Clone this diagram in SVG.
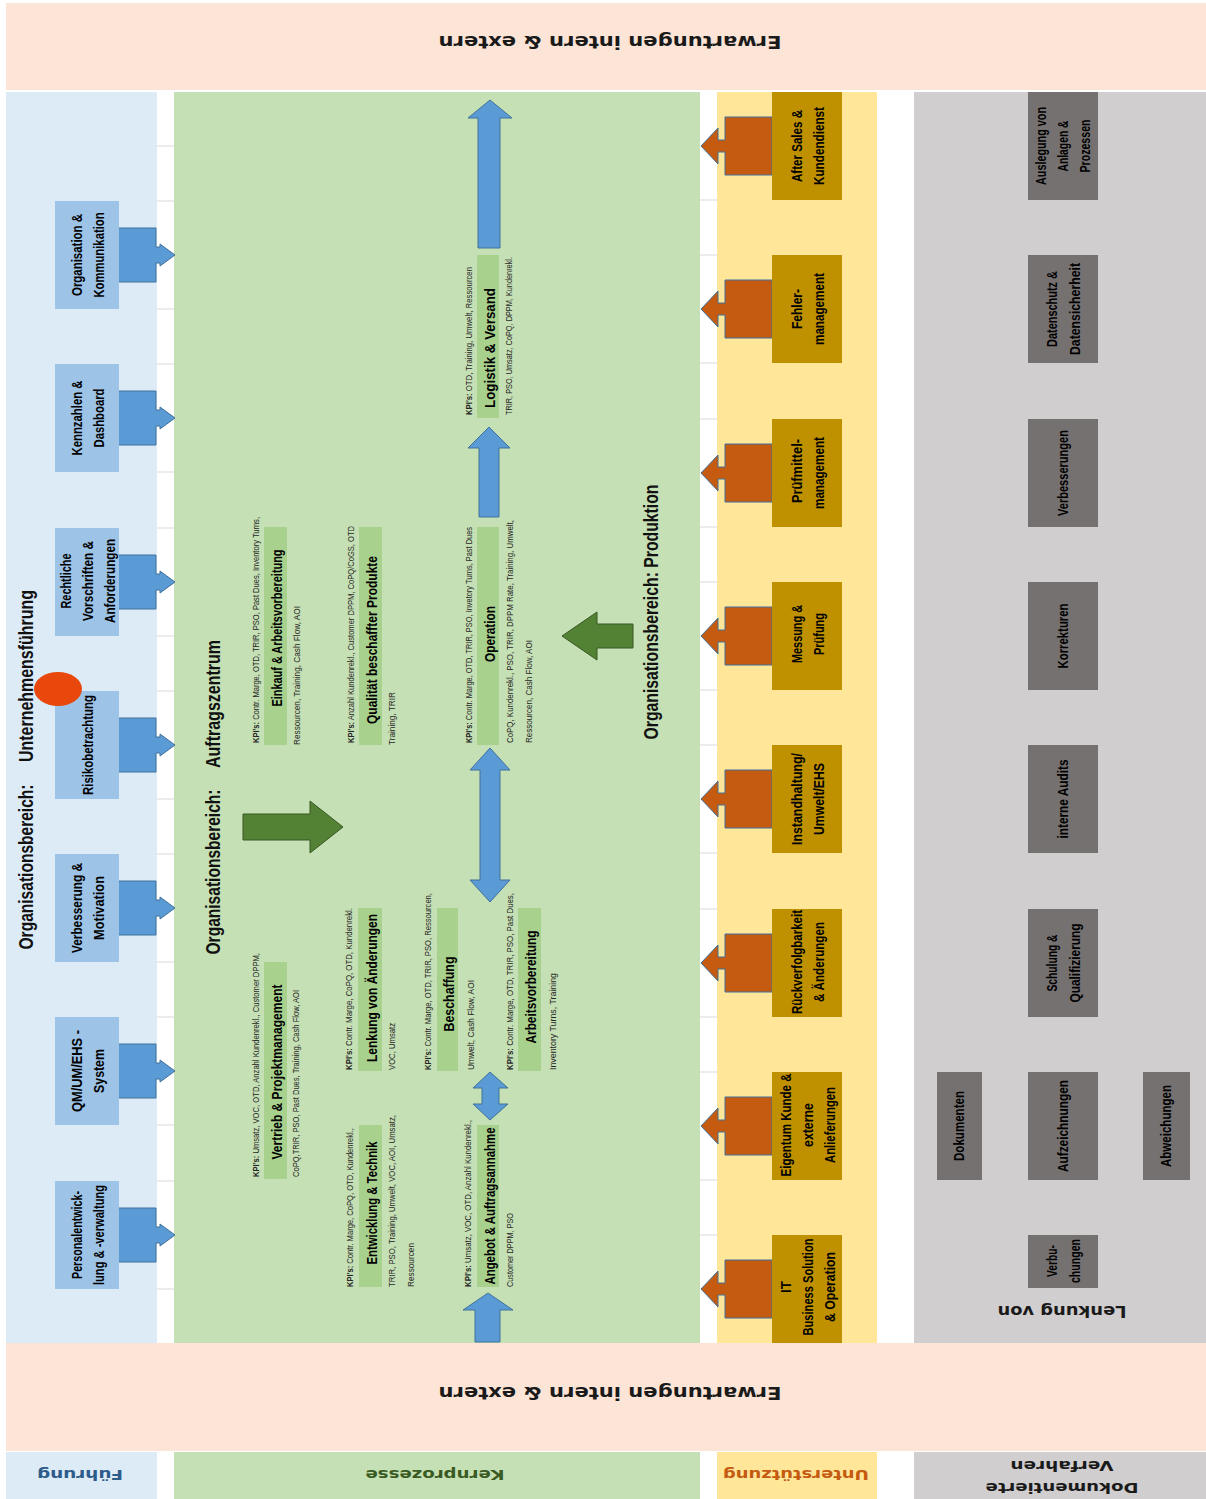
<svg xmlns="http://www.w3.org/2000/svg" width="1206" height="1499" viewBox="0 0 1206 1499">
<defs>
<style>
.t{font-family:"Liberation Sans Narrow","Liberation Sans",Arial,sans-serif;text-anchor:middle;dominant-baseline:central;fill:#000}
.b{font-weight:bold}
.lbl{font-size:14px;font-weight:bold}
.ttl{font-size:21px;font-weight:bold;fill:#111}
.pt{font-size:15px;font-weight:bold}
.kpi{font-size:8.5px;text-anchor:start;fill:#262626}
.v{font-family:"DejaVu Sans",Verdana,sans-serif;font-weight:bold;text-anchor:middle;dominant-baseline:central}
.peach{fill:#fce4d6}
.colb{fill:#ddebf7}
.colg{fill:#c5e0b4}
.coly{fill:#ffe699}
.colgr{fill:#d0cece}
.bb{fill:#9dc3e6}
.bo{fill:#bf9000}
.bg{fill:#767171}
.bp{fill:#a9d18e}
.ab{fill:#5b9bd5;stroke:#41719c;stroke-width:1}
.ao{fill:#c55a11;stroke:#41719c;stroke-width:1}
.ag{fill:#548235;stroke:#385723;stroke-width:1}
.grid{stroke:#d9d9d9;stroke-width:1}
</style>
</defs>
<rect width="1206" height="1499" fill="#ffffff"/>

<g id="background">
<rect class="peach" x="6" y="3" width="1200" height="87"/>
<rect class="colb" x="6" y="92" width="151" height="1251"/>
<rect class="colg" x="174" y="92" width="526" height="1251"/>
<rect class="coly" x="717" y="92" width="160" height="1251"/>
<rect class="colgr" x="914" y="92" width="292" height="1251"/>
<rect class="peach" x="6" y="1343" width="1200" height="108"/>
<rect class="colb" x="6" y="1452" width="151" height="47"/>
<rect class="colg" x="174" y="1452" width="526" height="47"/>
<rect class="coly" x="717" y="1452" width="160" height="47"/>
<rect class="colgr" x="914" y="1452" width="292" height="47"/>
<g class="grid">
<line x1="157" y1="146" x2="174" y2="146"/><line x1="157" y1="201" x2="174" y2="201"/>
<line x1="157" y1="309" x2="174" y2="309"/><line x1="157" y1="364" x2="174" y2="364"/>
<line x1="157" y1="472" x2="174" y2="472"/><line x1="157" y1="528" x2="174" y2="528"/>
<line x1="157" y1="636" x2="174" y2="636"/><line x1="157" y1="691" x2="174" y2="691"/>
<line x1="157" y1="799" x2="174" y2="799"/><line x1="157" y1="854" x2="174" y2="854"/>
<line x1="157" y1="962" x2="174" y2="962"/><line x1="157" y1="1017" x2="174" y2="1017"/>
<line x1="157" y1="1125" x2="174" y2="1125"/><line x1="157" y1="1181" x2="174" y2="1181"/>
<line x1="157" y1="1289" x2="174" y2="1289"/>
<line x1="700" y1="200" x2="717" y2="200"/><line x1="700" y1="255" x2="717" y2="255"/>
<line x1="700" y1="363" x2="717" y2="363"/><line x1="700" y1="419" x2="717" y2="419"/>
<line x1="700" y1="527" x2="717" y2="527"/><line x1="700" y1="582" x2="717" y2="582"/>
<line x1="700" y1="690" x2="717" y2="690"/><line x1="700" y1="745" x2="717" y2="745"/>
<line x1="700" y1="853" x2="717" y2="853"/><line x1="700" y1="909" x2="717" y2="909"/>
<line x1="700" y1="1017" x2="717" y2="1017"/><line x1="700" y1="1072" x2="717" y2="1072"/>
<line x1="700" y1="1180" x2="717" y2="1180"/><line x1="700" y1="1235" x2="717" y2="1235"/>
</g>
</g>

<g id="bands-text">
<text class="v" font-size="18" fill="#1a1a1a" transform="translate(610 42) rotate(180)" textLength="343" lengthAdjust="spacingAndGlyphs">Erwartungen intern &amp; extern</text>
<text class="v" font-size="18" fill="#1a1a1a" transform="translate(610 1393) rotate(180)" textLength="343" lengthAdjust="spacingAndGlyphs">Erwartungen intern &amp; extern</text>
<text class="v" font-size="14" fill="#2e5c8a" transform="translate(80 1475) rotate(180)" textLength="86" lengthAdjust="spacingAndGlyphs">Führung</text>
<text class="v" font-size="14" fill="#3a5a23" transform="translate(435 1475) rotate(180)" textLength="139" lengthAdjust="spacingAndGlyphs">Kernprozesse</text>
<text class="v" font-size="14" fill="#c55a11" transform="translate(796 1475) rotate(180)" textLength="146" lengthAdjust="spacingAndGlyphs">Unterstützung</text>
<text class="v" font-size="14" fill="#1a1a1a" transform="translate(1062 1488) rotate(180)" textLength="153" lengthAdjust="spacingAndGlyphs">Dokumentierte</text>
<text class="v" font-size="14" fill="#1a1a1a" transform="translate(1062 1466) rotate(180)" textLength="103" lengthAdjust="spacingAndGlyphs">Verfahren</text>
<text class="v" font-size="15" fill="#1a1a1a" transform="translate(1062 1311) rotate(180)" textLength="129" lengthAdjust="spacingAndGlyphs">Lenkung von</text>
</g>

<g id="titles">
<text class="t ttl" transform="translate(25 867) rotate(-90)" textLength="165" lengthAdjust="spacingAndGlyphs">Organisationsbereich:</text>
<text class="t ttl" transform="translate(25 676) rotate(-90)" textLength="172" lengthAdjust="spacingAndGlyphs">Unternehmensführung</text>
<text class="t ttl" transform="translate(212 872) rotate(-90)" textLength="165" lengthAdjust="spacingAndGlyphs">Organisationsbereich:</text>
<text class="t ttl" transform="translate(212 704) rotate(-90)" textLength="128" lengthAdjust="spacingAndGlyphs">Auftragszentrum</text>
<text class="t ttl" transform="translate(650 612) rotate(-90)" textLength="255" lengthAdjust="spacingAndGlyphs">Organisationsbereich: Produktion</text>
</g>

<g id="connectors">
<path class="ab" d="M118,228 H156 V247 H160 V244 L175,255 L160,266 V263 H156 V282 H118 Z"/>
<path class="ab" d="M118,391 H156 V410 H160 V407 L175,418 L160,429 V426 H156 V445 H118 Z"/>
<path class="ab" d="M118,555 H156 V574 H160 V571 L175,582 L160,593 V590 H156 V609 H118 Z"/>
<path class="ab" d="M118,718 H156 V737 H160 V734 L175,745 L160,756 V753 H156 V772 H118 Z"/>
<path class="ab" d="M118,881 H156 V900 H160 V897 L175,908 L160,919 V916 H156 V935 H118 Z"/>
<path class="ab" d="M118,1044 H156 V1063 H160 V1060 L175,1071 L160,1082 V1079 H156 V1098 H118 Z"/>
<path class="ab" d="M118,1208 H156 V1227 H160 V1224 L175,1235 L160,1246 V1243 H156 V1262 H118 Z"/>

<path class="ao" d="M772,117 H725 V140 H718 V128 L701,146 L718,164 V152 H725 V175 H772 Z"/>
<path class="ao" d="M772,280 H725 V303 H718 V291 L701,309 L718,327 V315 H725 V338 H772 Z"/>
<path class="ao" d="M772,444 H725 V467 H718 V455 L701,473 L718,491 V479 H725 V502 H772 Z"/>
<path class="ao" d="M772,607 H725 V630 H718 V618 L701,636 L718,654 V642 H725 V665 H772 Z"/>
<path class="ao" d="M772,770 H725 V793 H718 V781 L701,799 L718,817 V805 H725 V828 H772 Z"/>
<path class="ao" d="M772,934 H725 V957 H718 V945 L701,963 L718,981 V969 H725 V992 H772 Z"/>
<path class="ao" d="M772,1097 H725 V1120 H718 V1108 L701,1126 L718,1144 V1132 H725 V1155 H772 Z"/>
<path class="ao" d="M772,1260 H725 V1283 H718 V1271 L701,1289 L718,1307 V1295 H725 V1318 H772 Z"/>

<path class="ag" d="M243,814 H310 V801 L343,827 L310,853 V840 H243 Z"/>
<path class="ag" d="M633,624 H597 V612 L562,636 L597,660 V648 H633 Z"/>

<path class="ab" d="M475,1342 V1310 H463 L488,1293 L513,1310 H500 V1342 Z"/>
<path class="ab" d="M490,1072 L508,1088 H499 V1104 H508 L490,1120 L473,1104 H482 V1088 H473 Z"/>
<path class="ab" d="M490,748 L510,770 H500 V880 H510 L490,902 L470,880 H480 V770 H470 Z"/>
<path class="ab" d="M489,427 L510,448 H499 V517 H479 V448 H468 Z"/>
<path class="ab" d="M490,100 L512,118 H500 V248 H478 V118 H468 Z"/>
</g>

<g id="n-organisation"><rect class="bb" x="55" y="201" width="64" height="108"/>
<text class="t lbl" transform="translate(77 255) rotate(-90)" textLength="82" lengthAdjust="spacingAndGlyphs">Organisation &amp;</text>
<text class="t lbl" transform="translate(99 255) rotate(-90)" textLength="85" lengthAdjust="spacingAndGlyphs">Kommunikation</text></g>
<g id="n-kennzahlen"><rect class="bb" x="55" y="364" width="64" height="108"/>
<text class="t lbl" transform="translate(77 418) rotate(-90)" textLength="75" lengthAdjust="spacingAndGlyphs">Kennzahlen &amp;</text>
<text class="t lbl" transform="translate(99 418) rotate(-90)" textLength="59" lengthAdjust="spacingAndGlyphs">Dashboard</text></g>
<g id="n-rechtliche"><rect class="bb" x="55" y="528" width="64" height="108"/>
<text class="t lbl" transform="translate(66 581) rotate(-90)" textLength="55" lengthAdjust="spacingAndGlyphs">Rechtliche</text>
<text class="t lbl" transform="translate(88 581) rotate(-90)" textLength="80" lengthAdjust="spacingAndGlyphs">Vorschriften &amp;</text>
<text class="t lbl" transform="translate(110 581) rotate(-90)" textLength="84" lengthAdjust="spacingAndGlyphs">Anforderungen</text></g>
<g id="n-risiko"><rect class="bb" x="55" y="691" width="64" height="108"/>
<text class="t lbl" transform="translate(88 745) rotate(-90)" textLength="100" lengthAdjust="spacingAndGlyphs">Risikobetrachtung</text></g>
<g id="n-verbesserung"><rect class="bb" x="55" y="854" width="64" height="108"/>
<text class="t lbl" transform="translate(77 908) rotate(-90)" textLength="90" lengthAdjust="spacingAndGlyphs">Verbesserung &amp;</text>
<text class="t lbl" transform="translate(99 908) rotate(-90)" textLength="64" lengthAdjust="spacingAndGlyphs">Motivation</text></g>
<g id="n-qm"><rect class="bb" x="55" y="1017" width="64" height="108"/>
<text class="t lbl" transform="translate(77 1071) rotate(-90)" textLength="82" lengthAdjust="spacingAndGlyphs">QM/UM/EHS -</text>
<text class="t lbl" transform="translate(99 1071) rotate(-90)" textLength="44" lengthAdjust="spacingAndGlyphs">System</text></g>
<g id="n-personal"><rect class="bb" x="55" y="1181" width="64" height="108"/>
<text class="t lbl" transform="translate(77 1235) rotate(-90)" textLength="88" lengthAdjust="spacingAndGlyphs">Personalentwick-</text>
<text class="t lbl" transform="translate(99 1235) rotate(-90)" textLength="100" lengthAdjust="spacingAndGlyphs">lung &amp; -verwaltung</text></g>

<g id="marker-circle"><ellipse cx="58" cy="689" rx="24" ry="17" fill="#e8480c"/></g>

<g id="p-einkauf"><rect class="bp" x="264" y="527" width="23" height="218"/>
<text class="t kpi" transform="translate(256 743) rotate(-90)" textLength="226" lengthAdjust="spacingAndGlyphs"><tspan class="b">KPI's:</tspan> Contr. Marge, OTD, TRIR, PSO, Past Dues, Inventory Turns,</text>
<text class="t pt" transform="translate(276 628) rotate(-90)" textLength="157" lengthAdjust="spacingAndGlyphs">Einkauf &amp; Arbeitsvorbereitung</text>
<text class="t kpi" transform="translate(297 745) rotate(-90)" textLength="139" lengthAdjust="spacingAndGlyphs">Ressourcen, Training, Cash Flow, AOI</text></g>
<g id="p-qualitaet"><rect class="bp" x="359" y="527" width="23" height="218"/>
<text class="t kpi" transform="translate(351 743) rotate(-90)" textLength="217" lengthAdjust="spacingAndGlyphs"><tspan class="b">KPI's:</tspan> Anzahl Kundenrekl., Customer DPPM, CoPQ/CoGS, OTD</text>
<text class="t pt" transform="translate(371 640) rotate(-90)" textLength="168" lengthAdjust="spacingAndGlyphs">Qualität beschaffter Produkte</text>
<text class="t kpi" transform="translate(392 745) rotate(-90)" textLength="53" lengthAdjust="spacingAndGlyphs">Training, TRIR</text></g>
<g id="p-vertrieb"><rect class="bp" x="264" y="962" width="23" height="217"/>
<text class="t kpi" transform="translate(256 1177) rotate(-90)" textLength="224" lengthAdjust="spacingAndGlyphs"><tspan class="b">KPI's:</tspan> Umsatz, VOC, OTD, Anzahl Kundenrekl., Customer DPPM,</text>
<text class="t pt" transform="translate(276 1072) rotate(-90)" textLength="175" lengthAdjust="spacingAndGlyphs">Vertrieb &amp; Projektmanagement</text>
<text class="t kpi" transform="translate(296 1177) rotate(-90)" textLength="187" lengthAdjust="spacingAndGlyphs">CoPQ,TRIR, PSO, Past Dues, Training, Cash Flow, AOI</text></g>
<g id="p-entwicklung"><rect class="bp" x="359" y="1125" width="23" height="162"/>
<text class="t kpi" transform="translate(350 1287) rotate(-90)" textLength="159" lengthAdjust="spacingAndGlyphs"><tspan class="b">KPI's:</tspan> Contr. Marge, CoPQ, OTD, Kundenrekl.,</text>
<text class="t pt" transform="translate(371 1203) rotate(-90)" textLength="123" lengthAdjust="spacingAndGlyphs">Entwicklung &amp; Technik</text>
<text class="t kpi" transform="translate(392 1287) rotate(-90)" textLength="172" lengthAdjust="spacingAndGlyphs">TRIR, PSO, Training, Umwelt, VOC, AOI, Umsatz,</text>
<text class="t kpi" transform="translate(411 1287) rotate(-90)" textLength="44" lengthAdjust="spacingAndGlyphs">Ressourcen</text></g>
<g id="p-lenkung"><rect class="bp" x="358" y="908" width="24" height="163"/>
<text class="t kpi" transform="translate(349 1070) rotate(-90)" textLength="162" lengthAdjust="spacingAndGlyphs"><tspan class="b">KPI's:</tspan> Contr. Marge, CoPQ, OTD, Kundenrekl.</text>
<text class="t pt" transform="translate(371 988) rotate(-90)" textLength="148" lengthAdjust="spacingAndGlyphs">Lenkung von Änderungen</text>
<text class="t kpi" transform="translate(392 1070) rotate(-90)" textLength="47" lengthAdjust="spacingAndGlyphs">VOC, Umsatz</text></g>
<g id="p-beschaffung"><rect class="bp" x="437" y="908" width="21" height="163"/>
<text class="t kpi" transform="translate(428 1070) rotate(-90)" textLength="177" lengthAdjust="spacingAndGlyphs"><tspan class="b">KPI's:</tspan> Contr. Marge, OTD, TRIR, PSO, Ressourcen,</text>
<text class="t pt" transform="translate(448 994) rotate(-90)" textLength="75" lengthAdjust="spacingAndGlyphs">Beschaffung</text>
<text class="t kpi" transform="translate(471 1070) rotate(-90)" textLength="90" lengthAdjust="spacingAndGlyphs">Umwelt, Cash Flow, AOI</text></g>
<g id="p-arbeitsvorbereitung"><rect class="bp" x="518" y="908" width="23" height="163"/>
<text class="t kpi" transform="translate(510 1070) rotate(-90)" textLength="177" lengthAdjust="spacingAndGlyphs"><tspan class="b">KPI's:</tspan> Contr. Marge, OTD, TRIR, PSO, Past Dues,</text>
<text class="t pt" transform="translate(530 987) rotate(-90)" textLength="113" lengthAdjust="spacingAndGlyphs">Arbeitsvorbereitung</text>
<text class="t kpi" transform="translate(553 1070) rotate(-90)" textLength="97" lengthAdjust="spacingAndGlyphs">Inventory Turns, Training</text></g>
<g id="p-angebot"><rect class="bp" x="477" y="1125" width="22" height="162"/>
<text class="t kpi" transform="translate(468 1287) rotate(-90)" textLength="167" lengthAdjust="spacingAndGlyphs"><tspan class="b">KPI's:</tspan> Umsatz, VOC, OTD, Anzahl Kundenrekl.,</text>
<text class="t pt" transform="translate(489 1206) rotate(-90)" textLength="157" lengthAdjust="spacingAndGlyphs">Angebot &amp; Auftragsannahme</text>
<text class="t kpi" transform="translate(510 1287) rotate(-90)" textLength="74" lengthAdjust="spacingAndGlyphs">Customer DPPM, PSO</text></g>
<g id="p-operation"><rect class="bp" x="477" y="527" width="22" height="218"/>
<text class="t kpi" transform="translate(469 743) rotate(-90)" textLength="216" lengthAdjust="spacingAndGlyphs"><tspan class="b">KPI's:</tspan> Contr. Marge, OTD, TRIR, PSO, Invetory Turns, Past Dues</text>
<text class="t pt" transform="translate(489 634) rotate(-90)" textLength="56" lengthAdjust="spacingAndGlyphs">Operation</text>
<text class="t kpi" transform="translate(510 743) rotate(-90)" textLength="223" lengthAdjust="spacingAndGlyphs">CoPQ, Kundenrekl., PSO, TRIR, DPPM Rate, Training, Umwelt,</text>
<text class="t kpi" transform="translate(529 743) rotate(-90)" textLength="103" lengthAdjust="spacingAndGlyphs">Ressourcen, Cash Flow, AOI</text></g>
<g id="p-logistik"><rect class="bp" x="477" y="255" width="22" height="163"/>
<text class="t kpi" transform="translate(469 415) rotate(-90)" textLength="148" lengthAdjust="spacingAndGlyphs"><tspan class="b">KPI's:</tspan> OTD, Training, Umwelt, Ressourcen</text>
<text class="t pt" transform="translate(489 348) rotate(-90)" textLength="120" lengthAdjust="spacingAndGlyphs">Logistik &amp; Versand</text>
<text class="t kpi" transform="translate(509 415) rotate(-90)" textLength="158" lengthAdjust="spacingAndGlyphs">TRIR, PSO, Umsatz, CoPQ, DPPM, Kundenrekl.</text></g>

<g id="s-aftersales"><rect class="bo" x="772" y="92" width="70" height="108"/>
<text class="t lbl" transform="translate(797 146) rotate(-90)" textLength="72" lengthAdjust="spacingAndGlyphs">After Sales &amp;</text>
<text class="t lbl" transform="translate(819 146) rotate(-90)" textLength="78" lengthAdjust="spacingAndGlyphs">Kundendienst</text></g>
<g id="s-fehler"><rect class="bo" x="772" y="255" width="70" height="108"/>
<text class="t lbl" transform="translate(797 309) rotate(-90)" textLength="40" lengthAdjust="spacingAndGlyphs">Fehler-</text>
<text class="t lbl" transform="translate(819 309) rotate(-90)" textLength="72" lengthAdjust="spacingAndGlyphs">management</text></g>
<g id="s-pruefmittel"><rect class="bo" x="772" y="419" width="70" height="108"/>
<text class="t lbl" transform="translate(797 471) rotate(-90)" textLength="64" lengthAdjust="spacingAndGlyphs">Prüfmittel-</text>
<text class="t lbl" transform="translate(819 473) rotate(-90)" textLength="72" lengthAdjust="spacingAndGlyphs">management</text></g>
<g id="s-messung"><rect class="bo" x="772" y="582" width="70" height="108"/>
<text class="t lbl" transform="translate(797 634) rotate(-90)" textLength="58" lengthAdjust="spacingAndGlyphs">Messung &amp;</text>
<text class="t lbl" transform="translate(819 634) rotate(-90)" textLength="42" lengthAdjust="spacingAndGlyphs">Prüfung</text></g>
<g id="s-instandhaltung"><rect class="bo" x="772" y="745" width="70" height="108"/>
<text class="t lbl" transform="translate(797 799) rotate(-90)" textLength="92" lengthAdjust="spacingAndGlyphs">Instandhaltung/</text>
<text class="t lbl" transform="translate(819 799) rotate(-90)" textLength="72" lengthAdjust="spacingAndGlyphs">Umwelt/EHS</text></g>
<g id="s-rueckverfolgbarkeit"><rect class="bo" x="772" y="909" width="70" height="108"/>
<text class="t lbl" transform="translate(797 962) rotate(-90)" textLength="104" lengthAdjust="spacingAndGlyphs">Rückverfolgbarkeit</text>
<text class="t lbl" transform="translate(819 962) rotate(-90)" textLength="80" lengthAdjust="spacingAndGlyphs">&amp; Änderungen</text></g>
<g id="s-eigentum"><rect class="bo" x="772" y="1072" width="70" height="108"/>
<text class="t lbl" transform="translate(786 1125) rotate(-90)" textLength="103" lengthAdjust="spacingAndGlyphs">Eigentum Kunde &amp;</text>
<text class="t lbl" transform="translate(808 1125) rotate(-90)" textLength="44" lengthAdjust="spacingAndGlyphs">externe</text>
<text class="t lbl" transform="translate(830 1125) rotate(-90)" textLength="76" lengthAdjust="spacingAndGlyphs">Anlieferungen</text></g>
<g id="s-it"><rect class="bo" x="772" y="1235" width="70" height="108"/>
<text class="t lbl" transform="translate(786 1287) rotate(-90)" textLength="12" lengthAdjust="spacingAndGlyphs">IT</text>
<text class="t lbl" transform="translate(808 1287) rotate(-90)" textLength="97" lengthAdjust="spacingAndGlyphs">Business Solution</text>
<text class="t lbl" transform="translate(830 1287) rotate(-90)" textLength="70" lengthAdjust="spacingAndGlyphs">&amp; Operation</text></g>

<g id="d-auslegung"><rect class="bg" x="1028" y="92" width="70" height="108"/>
<text class="t lbl" transform="translate(1041 146) rotate(-90)" textLength="78" lengthAdjust="spacingAndGlyphs">Auslegung von</text>
<text class="t lbl" transform="translate(1063 146) rotate(-90)" textLength="51" lengthAdjust="spacingAndGlyphs">Anlagen &amp;</text>
<text class="t lbl" transform="translate(1085 146) rotate(-90)" textLength="53" lengthAdjust="spacingAndGlyphs">Prozessen</text></g>
<g id="d-datenschutz"><rect class="bg" x="1028" y="255" width="70" height="108"/>
<text class="t lbl" transform="translate(1052 309) rotate(-90)" textLength="76" lengthAdjust="spacingAndGlyphs">Datenschutz &amp;</text>
<text class="t lbl" transform="translate(1075 309) rotate(-90)" textLength="92" lengthAdjust="spacingAndGlyphs">Datensicherheit</text></g>
<g id="d-verbesserungen"><rect class="bg" x="1028" y="419" width="70" height="108"/>
<text class="t lbl" transform="translate(1063 473) rotate(-90)" textLength="86" lengthAdjust="spacingAndGlyphs">Verbesserungen</text></g>
<g id="d-korrekturen"><rect class="bg" x="1028" y="582" width="70" height="108"/>
<text class="t lbl" transform="translate(1063 636) rotate(-90)" textLength="65" lengthAdjust="spacingAndGlyphs">Korrekturen</text></g>
<g id="d-audits"><rect class="bg" x="1028" y="745" width="70" height="108"/>
<text class="t lbl" transform="translate(1063 799) rotate(-90)" textLength="79" lengthAdjust="spacingAndGlyphs">interne Audits</text></g>
<g id="d-schulung"><rect class="bg" x="1028" y="909" width="70" height="108"/>
<text class="t lbl" transform="translate(1052 963) rotate(-90)" textLength="57" lengthAdjust="spacingAndGlyphs">Schulung &amp;</text>
<text class="t lbl" transform="translate(1075 963) rotate(-90)" textLength="79" lengthAdjust="spacingAndGlyphs">Qualifizierung</text></g>
<g id="d-dokumenten"><rect class="bg" x="937" y="1072" width="45" height="108"/>
<text class="t lbl" transform="translate(959 1126) rotate(-90)" textLength="70" lengthAdjust="spacingAndGlyphs">Dokumenten</text></g>
<g id="d-aufzeichnungen"><rect class="bg" x="1028" y="1072" width="70" height="108"/>
<text class="t lbl" transform="translate(1063 1126) rotate(-90)" textLength="92" lengthAdjust="spacingAndGlyphs">Aufzeichnungen</text></g>
<g id="d-abweichungen"><rect class="bg" x="1143" y="1072" width="47" height="108"/>
<text class="t lbl" transform="translate(1166 1126) rotate(-90)" textLength="82" lengthAdjust="spacingAndGlyphs">Abweichungen</text></g>
<g id="d-verbuchungen"><rect class="bg" x="1028" y="1235" width="70" height="53"/>
<text class="t lbl" transform="translate(1052 1261) rotate(-90)" textLength="32" lengthAdjust="spacingAndGlyphs">Verbu-</text>
<text class="t lbl" transform="translate(1075 1261) rotate(-90)" textLength="44" lengthAdjust="spacingAndGlyphs">chungen</text></g>
</svg>
